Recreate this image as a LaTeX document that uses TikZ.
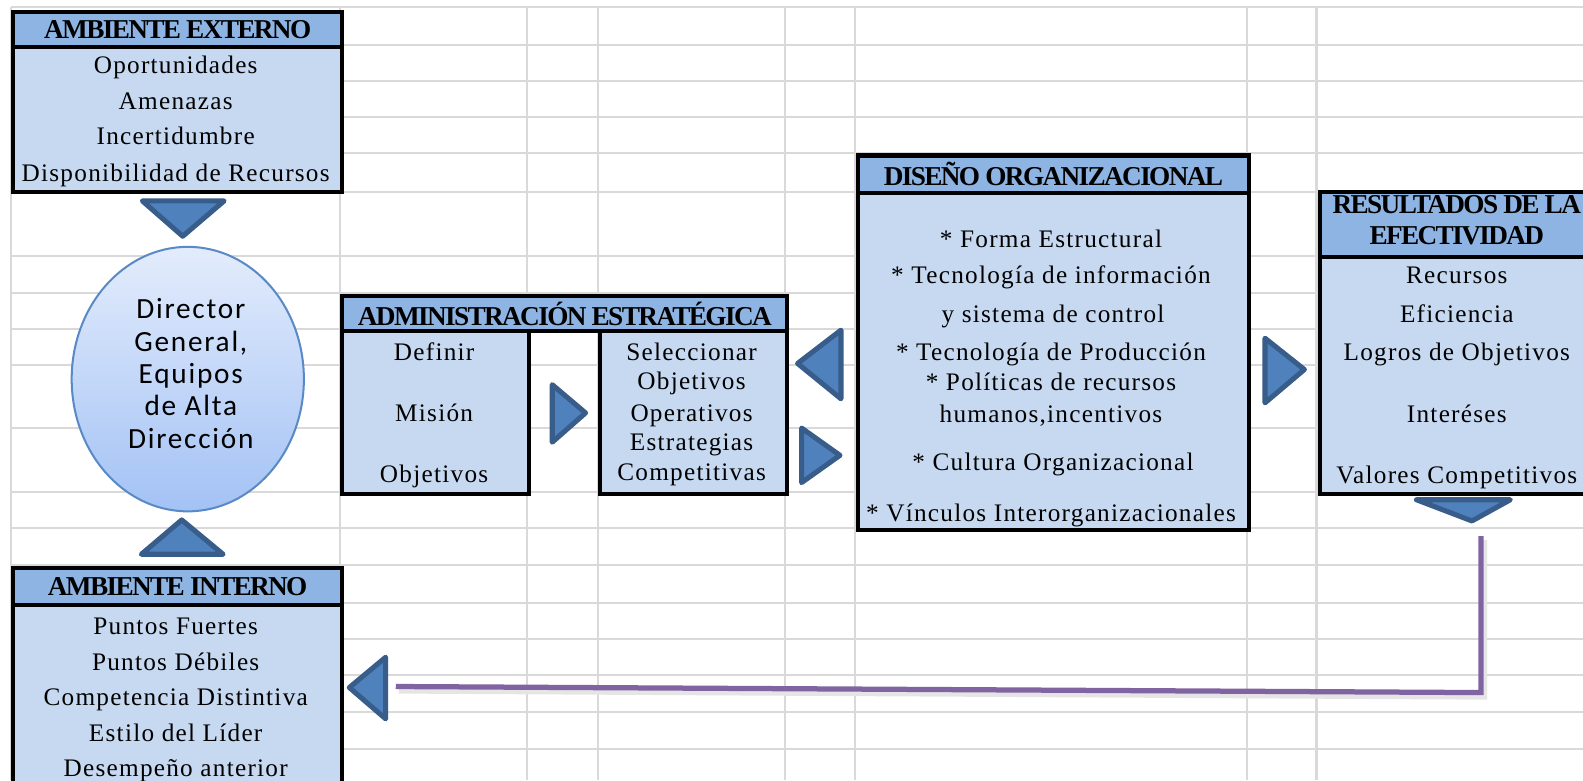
\documentclass[tikz,border=0pt]{standalone}
\usepackage{fontspec}
\setmainfont{Liberation Serif}
\newfontfamily\calib[LetterSpace=6]{Carlito}
\newfontfamily\bodyf[LetterSpace=5]{Liberation Serif}
\newfontfamily\hdrf[LetterSpace=-6]{Liberation Serif}
\usetikzlibrary{shapes.geometric}
\definecolor{gridc}{HTML}{D9D9D9}
\definecolor{hdrc}{HTML}{8EB4E3}
\definecolor{bodyc}{HTML}{C6D9F1}
\definecolor{trif}{HTML}{4F81BD}
\definecolor{trid}{HTML}{385D8A}
\definecolor{purp}{HTML}{8064A2}
\definecolor{elltop}{HTML}{E3ECFC}
\definecolor{ellbot}{HTML}{A3C2F5}
\definecolor{elledge}{HTML}{5A8AC6}
\tikzset{
  gridline/.style={draw=gridc,line width=1pt},
  panel/.style={draw=black,line width=2pt,fill=bodyc,inner sep=0pt,anchor=north west},
  hdrpanel/.style={panel,fill=hdrc},
  hdrtxt/.style={inner sep=0pt,align=center,font=\fontsize{13.5}{16}\hdrf\bfseries},
  txt/.style={anchor=base,inner sep=0pt,font=\fontsize{12.5}{15}\bodyf},
  tri/.style={fill=trif,draw=trid,line width=2.5pt,line join=round},
  conn/.style={draw=purp,line width=2.6pt,line join=miter},
  connshadow/.style={draw=black!10,line width=3pt,line join=miter},
}
\begin{document}
\begin{tikzpicture}[x=0.5pt,y=-0.5pt]
\clip (0,0) rectangle (1568,773);
\fill[white] (0,0) rectangle (1568,773);
% spreadsheet grid
\foreach \y in {7,45,80,116,152,190,254,290,326,362,424,487,523,560,597,633,669,705,742}
  \draw[gridline] (11,\y) -- (1568,\y);
\foreach \x in {11,337,522,592,778,847,1235,1304}
  \draw[gridline] (\x,7) -- (\x,773);

% AMBIENTE EXTERNO
\node[panel,minimum width=163pt,minimum height=71.5pt] (aebody) at (11,45) {};
\node[hdrpanel,minimum width=163pt,minimum height=17.5pt] (aehdr) at (11,10) {};
\node[hdrtxt] (aehdrtxt) at (aehdr.center) {AMBIENTE EXTERNO};
\node[txt] (ae1) at (174,73) {Oportunidades};
\node[txt] (ae2) at (174,108) {Amenazas};
\node[txt] (ae3) at (174,143) {Incertidumbre};
\node[txt] (ae4) at (174,180) {Disponibilidad de Recursos};

% ellipse
\node[ellipse,draw=elledge,line width=1pt,top color=elltop,bottom color=ellbot,
      minimum width=115pt,minimum height=131pt,inner sep=0pt] (dir) at (186,375.5) {};
\node[align=center,inner sep=0pt,font=\fontsize{14.5}{16}\calib] (dirtxt) at (189,370)
  {Director\\General,\\Equipos\\de Alta\\Dirección};

% AMBIENTE INTERNO
\node[panel,minimum width=163pt,minimum height=110pt] (aibody) at (11,597) {};
\node[hdrpanel,minimum width=163pt,minimum height=18pt] (aihdr) at (11,561) {};
\node[hdrtxt] (aihdrtxt) at (aihdr.center) {AMBIENTE INTERNO};
\node[txt] (ai1) at (174,628) {Puntos Fuertes};
\node[txt] (ai2) at (174,664) {Puntos Débiles};
\node[txt] (ai3) at (174,699) {Competencia Distintiva};
\node[txt] (ai4) at (174,734) {Estilo del Líder};
\node[txt] (ai5) at (174,769) {Desempeño anterior};

% ADMINISTRACION ESTRATEGICA
\node[panel,minimum width=92.5pt,minimum height=80.5pt] (adl) at (337,326) {};
\node[panel,minimum width=93pt,minimum height=80.5pt] (adr) at (592,326) {};
\node[hdrpanel,minimum width=220.5pt,minimum height=17.5pt] (adhdr) at (337,291) {};
\node[hdrtxt] (adhdrtxt) at (adhdr.center) {ADMINISTRACIÓN ESTRATÉGICA};
\node[txt] (adl1) at (430,357) {Definir};
\node[txt] (adl2) at (430,417) {Misión};
\node[txt] (adl3) at (430,478) {Objetivos};
\node[txt] (adr1) at (685,357) {Seleccionar};
\node[txt] (adr2) at (685,386) {Objetivos};
\node[txt] (adr3) at (685,417) {Operativos};
\node[txt] (adr4) at (685,446) {Estrategias};
\node[txt] (adr5) at (685,476) {Competitivas};

% DISENO ORGANIZACIONAL
\node[panel,minimum width=193.5pt,minimum height=167pt] (dobody) at (848,189) {};
\node[hdrpanel,minimum width=193.5pt,minimum height=18.5pt] (dohdr) at (848,152) {};
\node[hdrtxt] (dohdrtxt) at (dohdr.center) {DISEÑO ORGANIZACIONAL};
\node[txt] (do1) at (1041,245) {* Forma Estructural};
\node[txt] (do2) at (1041,281) {* Tecnología de información};
\node[txt] (do3) at (1043,319) {y sistema de control};
\node[txt] (do4) at (1041,357) {* Tecnología de Producción};
\node[txt] (do5) at (1041,387) {* Políticas de recursos};
\node[txt] (do6) at (1041,418) {humanos,incentivos};
\node[txt] (do7) at (1043,466) {* Cultura Organizacional};
\node[txt] (do8) at (1041,517) {* Vínculos Interorganizacionales};

% RESULTADOS DE LA EFECTIVIDAD
\node[panel,minimum width=139pt,minimum height=117pt] (rebody) at (1305,253) {};
\node[hdrpanel,minimum width=139pt,minimum height=32.5pt] (rehdr) at (1305,188) {};
\node[hdrtxt,anchor=base] (rehdr1) at (1443,211) {RESULTADOS DE LA};
\node[hdrtxt,anchor=base] (rehdr2) at (1443,242) {EFECTIVIDAD};
\node[txt] (re1) at (1443,281) {Recursos};
\node[txt] (re2) at (1443,319) {Eficiencia};
\node[txt] (re3) at (1443,357) {Logros de Objetivos};
\node[txt] (re4) at (1443,418) {Interéses};
\node[txt] (re5) at (1443,479) {Valores Competitivos};

% block arrows (triangles)
\draw[tri] (141,199) -- (222,199) -- (181,234) -- cycle;
\draw[tri] (140,549) -- (221,549) -- (180,515) -- cycle;
\draw[tri] (547,381) -- (547,438) -- (580,409) -- cycle;
\draw[tri] (794,424) -- (794,478) -- (832,451) -- cycle;
\draw[tri] (833,327) -- (833,395) -- (790,360) -- cycle;
\draw[tri] (1253,335) -- (1253,399) -- (1292,366) -- cycle;
\draw[tri] (1403,495) -- (1496,495) -- (1458,516) -- cycle;
\draw[tri] (382,651) -- (382,712) -- (346,681) -- cycle;

% feedback connector
\coordinate (pstart) at (1467,531);
\coordinate (pcorner) at (1467,686);
\coordinate (pend) at (392,680);
\draw[connshadow] ([shift={(3,4)}]pstart) -- ([shift={(3,4)}]pcorner) -- ([shift={(3,4)}]pend);
\draw[conn] (pstart) -- (pcorner) -- (pend);
\end{tikzpicture}
\end{document}
